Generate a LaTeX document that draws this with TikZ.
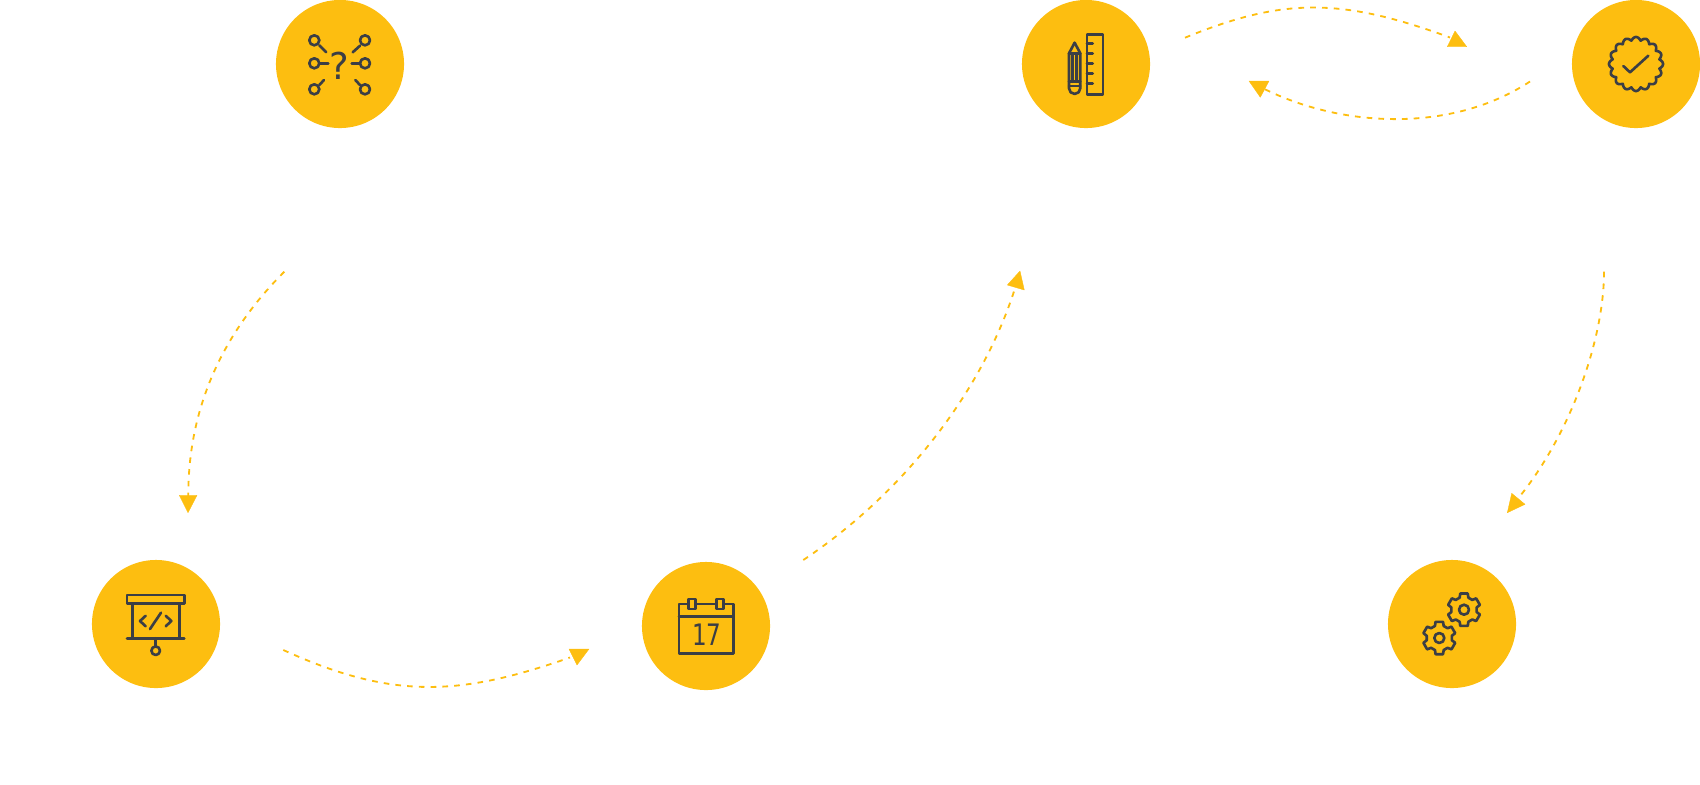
\documentclass[tikz,border=0pt]{standalone}
\usepackage{fontspec}
\newfontfamily\iconfont{DejaVu Sans}
\definecolor{discyellow}{HTML}{FDBE10}
\definecolor{icongrey}{HTML}{3B3E45}
\tikzset{
  stepdisc/.style={circle, fill=discyellow, minimum size=1.28cm, inner sep=0pt},
  iconline/.style={draw=icongrey, line width=0.75pt, line join=round, line cap=round},
  flowline/.style={draw=discyellow, line width=0.52pt, dash pattern=on 1.6pt off 1.75pt},
  arrowtip/.style={fill=discyellow, draw=discyellow, line width=0.1pt, line join=round},
  icontext/.style={text=icongrey, inner sep=0pt}
}
\begin{document}
\begin{tikzpicture}[x=0.01cm,y=-0.01cm]
  \useasboundingbox (0,0) rectangle (1700,784);
  % discs
  \node[stepdisc] (research) at (340,64) {};
  \node[stepdisc] (design) at (1086,64) {};
  \node[stepdisc] (approve) at (1636,64) {};
  \node[stepdisc] (present) at (156,624) {};
  \node[stepdisc] (plan) at (706,626) {};
  \node[stepdisc] (build) at (1452,624) {};
  % connector ends
  \coordinate (researchOut) at (284.3,271.7);
  \coordinate (presentIn) at (188.3,496);
  \coordinate (presentOut) at (283.3,650);
  \coordinate (planIn) at (570,657.5);
  \coordinate (planOut) at (803.3,560);
  \coordinate (designIn) at (1016,285);
  \coordinate (designOut) at (1185,37.7);
  \coordinate (approveIn) at (1450,37.5);
  \coordinate (approveOut) at (1530,81.5);
  \coordinate (designBack) at (1263,88.3);
  \coordinate (approveDown) at (1604,271.7);
  \coordinate (buildIn) at (1516,501);
  % connectors
  \draw[flowline] (researchOut) .. controls (229,327) and (188,400) .. (presentIn);
  \draw[flowline] (presentOut) .. controls (393,700) and (460,696) .. (planIn);
  \draw[flowline] (planOut) .. controls (908,490) and (985,386) .. (designIn);
  \draw[flowline] (designOut) .. controls (1283,-2.5) and (1341,-2.5) .. (approveIn);
  \draw[flowline] (approveOut) .. controls (1450,134) and (1340,127) .. (designBack);
  \draw[flowline] (approveDown) .. controls (1604,340) and (1570,436) .. (buildIn);
  % arrow heads
  \foreach \ax/\ay/\bx/\by/\cx/\cy in {179.3/495.3/197/495.3/188/512.7,
      569/649/589/649/577/665, 1020/271/1007.3/285/1024.3/290,
      1455/31/1447.3/46.7/1466.7/46.7, 1249/81/1269/81/1260.3/97.3,
      1511.7/493.3/1525/504.3/1507.3/512.7}
    \filldraw[arrowtip] (\ax,\ay) -- (\bx,\by) -- (\cx,\cy) -- cycle;
  % research icon
  \begin{scope}[shift={(research.center)}]
    \foreach \cx/\cy/\ax/\ay/\bx/\by in {-25.7/-23.7/-20.7/-18.7/-13.7/-11.7,
        25/-23.7/20/-18.3/12.7/-11.7, -25.7/-0.7/-20/-0.7/-11.7/-0.7,
        25/-0.7/19.3/-0.7/11.7/-0.7, -25.7/25.3/-20.7/21/-16/16,
        25/25.3/20/21/15.3/16}
     {
      \draw[iconline] (\cx,\cy) circle (5);
      \draw[iconline] (\ax,\ay) -- (\bx,\by);
     }
    \node[icontext, font=\iconfont\fontsize{10.5}{10.5}\selectfont] (researchmark) at (-0.3,1.7) {?};
  \end{scope}
  % design icon
  \begin{scope}[shift={(design.center)}]
    \draw[iconline] (1,-29.3) rectangle (17,30.7);
    \foreach \yy in {-20.7,-10.7,-0.7,9.3,19.3}
      \draw[iconline] (1,\yy) -- (6.7,\yy);
    \draw[iconline] (-17,-10.7) -- (-11.4,-21.3) -- (-5.7,-10.7) -- (-5.7,24.3)
      arc[start angle=0, end angle=180, radius=5.65] -- cycle;
    \draw[iconline] (-17,-10.7) -- (-5.7,-10.7);
    \draw[iconline] (-17,17.7) -- (-5.7,17.7);
    \draw[iconline] (-17,22) -- (-5.7,22);
    \draw[iconline] (-13.7,-10.7) -- (-13.7,17.7);
    \draw[iconline] (-9.7,-10.7) -- (-9.7,17.7);
  \end{scope}
  % approve icon
  \begin{scope}[shift={(approve.center)}]
    \draw[iconline, domain=0:360, samples=321]
      plot (\x:{23.8+3.2*abs(cos(8*\x))}) -- cycle;
    \draw[iconline] (-12.7,2) -- (-6,8.3) -- (12.3,-8.3);
  \end{scope}
  % present icon
  \begin{scope}[shift={(present.center)}]
    \draw[iconline] (-29,-29) rectangle (28.3,-20.3);
    \draw[iconline] (-23.7,-20.3) -- (-23.7,14.3);
    \draw[iconline] (23.3,-20.3) -- (23.3,14.3);
    \draw[iconline] (-29,14.3) -- (28.3,14.3);
    \draw[iconline] (-0.3,14.3) -- (-0.3,22.4);
    \draw[iconline] (-0.3,26.7) circle (4.3);
    \draw[iconline] (-10.3,-8.3) -- (-16,-3) -- (-10.3,2.3);
    \draw[iconline] (9.7,-8.3) -- (15.3,-3) -- (9.7,2.3);
    \draw[iconline] (5,-11.3) -- (-6,5);
  \end{scope}
  % plan icon
  \begin{scope}[shift={(plan.center)}]
    \draw[iconline] (-27,-22) rectangle (27.3,27.3);
    \draw[iconline] (-27,-9.7) -- (27.3,-9.7);
    \draw[iconline, fill=discyellow] (-17.7,-27) rectangle (-10.7,-17);
    \draw[iconline, fill=discyellow] (10.3,-27) rectangle (17.3,-17);
    \node[icontext, xscale=0.78, font=\iconfont\fontsize{8.4}{8.4}\selectfont] (plandate) at (0.7,8.3) {17};
  \end{scope}
  % build icon
  \begin{scope}[shift={(build.center)}]
    \foreach \gx/\gy in {12/-14.3,-12.7/14}
     {
      \begin{scope}[xshift=\gx*0.01cm, yshift=-\gy*0.01cm]
        \draw[iconline] (5,0) arc[start angle=0, end angle=360, radius=5];
        \draw[iconline] (70:12.8)
          \foreach \aa in {90,150,...,390} { -- ({\aa-20}:12.8) -- ({\aa-13}:16.6) -- ({\aa+13}:16.6) -- ({\aa+20}:12.8) } -- cycle;
      \end{scope}
     }
  \end{scope}
\end{tikzpicture}
\end{document}
